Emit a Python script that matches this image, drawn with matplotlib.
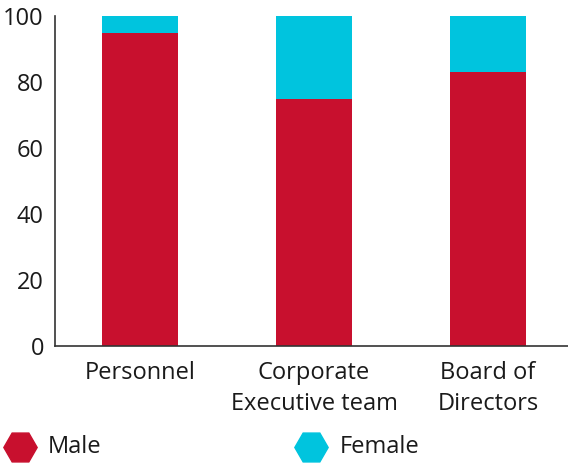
import matplotlib
matplotlib.use("Agg")
import matplotlib.pyplot as plt
from matplotlib.lines import Line2D

categories = ["Personnel", "Corporate\nExecutive team", "Board of\nDirectors"]
male = [95, 75, 83]
female = [5, 25, 17]
series_names = ["Male", "Female"]
colors = ["#C8102E", "#00C4DE"]
yticks = [0, 20, 40, 60, 80, 100]

plt.rcParams['font.family'] = ['Open Sans', 'DejaVu Sans']
W, H = 568, 469
fig = plt.figure(figsize=(W/100, H/100), dpi=100)
ax = fig.add_axes([55/W, 1-346/H, (W-55)/W, (346-16)/H])

x = range(len(categories))
ax.bar(x, male, width=0.435, color=colors[0])
ax.bar(x, female, width=0.435, bottom=male, color=colors[1])

fs = 17
ax.set_xlim(-0.49, 2.46)
ax.set_ylim(0, 100)
ax.set_yticks(yticks)
ax.set_xticks(list(x))
ax.set_xticklabels(categories, linespacing=1.35)
ax.tick_params(axis='both', length=0, labelsize=fs, colors='#1a1a1a')
ax.tick_params(axis='y', pad=8)
ax.tick_params(axis='x', pad=11)
for s in ['top', 'right']:
    ax.spines[s].set_visible(False)
for s in ['left', 'bottom']:
    ax.spines[s].set_color('#333333')
    ax.spines[s].set_linewidth(1.2)

leg_y = 1 - 447/H
for xm, xt, name, c in [(20, 48, series_names[0], colors[0]), (311, 340, series_names[1], colors[1])]:
    fig.add_artist(Line2D([xm/W], [leg_y], marker='H', markersize=24, color=c,
                          linestyle='none', transform=fig.transFigure))
    fig.text(xt/W, leg_y, name, va='center', ha='left', fontsize=fs, color='#1a1a1a')

fig.savefig("out.png", dpi=100)
